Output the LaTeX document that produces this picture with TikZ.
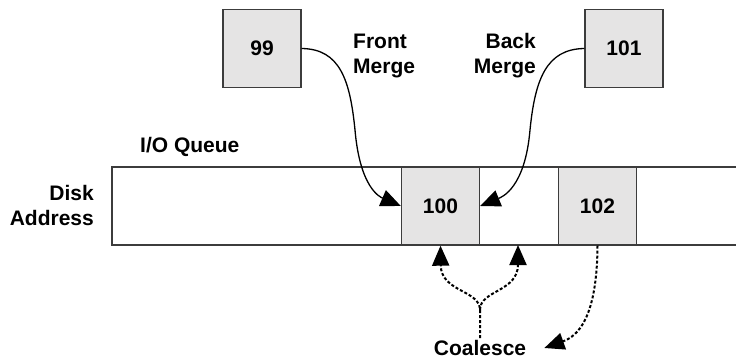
\documentclass[tikz,border=0pt]{standalone}
\usepackage{fontspec}
\setmainfont{Liberation Sans}
\usetikzlibrary{arrows.meta}
\usetikzlibrary{math}
\definecolor{blockgray}{RGB}{229,228,228}
\definecolor{edgegray}{RGB}{60,60,60}

\tikzset{
  block/.style={draw=edgegray, line width=1.4pt, fill=blockgray, minimum width=78pt, minimum height=78pt, font=\fontsize{21}{25}\selectfont\bfseries},
  txt/.style={font=\fontsize{21}{25}\selectfont\bfseries, inner sep=2pt},
  merge/.style={line width=1.3pt, -{Triangle[length=20pt,width=17pt]}},
  dotlink/.style={line width=2pt, dash pattern=on 3pt off 2pt, -{Triangle[length=20pt,width=17pt]}}
}

\begin{document}
\begin{tikzpicture}[x=1pt,y=-1pt]
\tikzmath{
\qtop=167;
\qbot=245;
\qmid=206;
}
\useasboundingbox (0,0) rectangle (736,359);

%%%%%%%%%%   queue
\draw[line width=1.8pt, draw=edgegray] (737,\qtop) -| (112,\qbot) -- (737,\qbot);
\node[txt, align=right, anchor=east] (disk) at (96,205) {Disk\\Address};
\node[txt, anchor=west] (ioq) at (138,147) {I/O Queue};

\node[block] (b100) at (440.5,\qmid) {100};
\node[block] (b102) at (597.5,\qmid) {102};

%%%%%%%%%%   merges
\node[block] (b99) at (262,48.5) {99};
\node[block] (b101) at (624,48.5) {101};
\node[txt, align=left, anchor=west] (front) at (351,56) {Front\\Merge};
\node[txt, align=right, anchor=east] (back) at (538,56) {Back\\Merge};

\draw[merge] (b99.east) .. controls (340,49) and (350,80) .. (355,130) .. controls (360,188) and (380,197) .. (b100.west);
\draw[merge] (b101.west) .. controls (546,49) and (535,80) .. (530,130) .. controls (525,188) and (502,197) .. (b100.east);

%%%%%%%%%%   coalesce
\node[txt] (coalesce) at (480,348) {Coalesce};
\coordinate (fork) at (480,310);
\coordinate (gap) at (518,\qbot);
\draw[dotlink] (coalesce.north) -- (fork) .. controls (480,290) and (441,292) .. (b100.south);
\draw[dotlink] (fork) .. controls (480,290) and (518,292) .. (gap);
\draw[dotlink] (b102.south) .. controls (597,318) and (578,336) .. ([xshift=16pt]coalesce.east);
\end{tikzpicture}
\end{document}
